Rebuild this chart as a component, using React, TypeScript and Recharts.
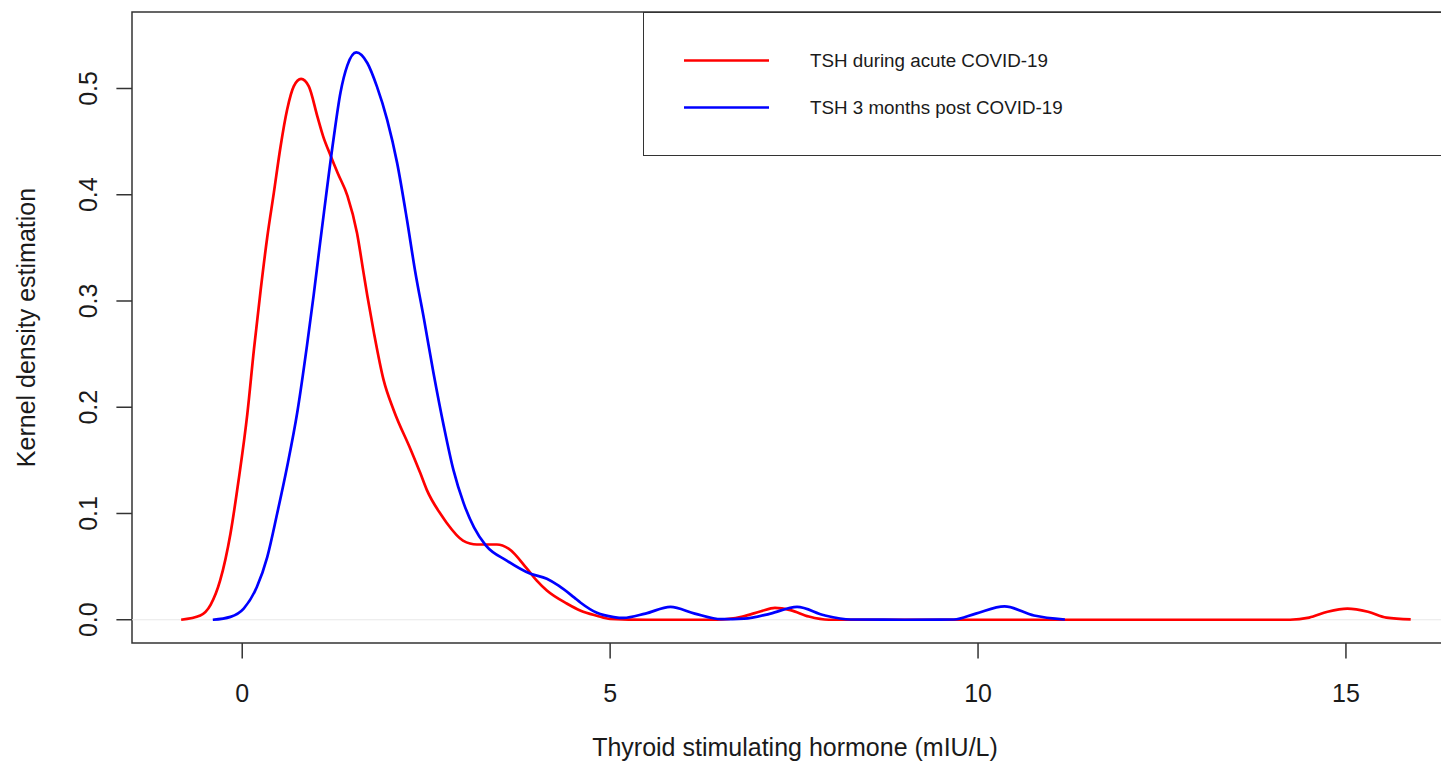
import React from 'react';
import { LineChart, Line, XAxis, YAxis, ReferenceLine, ReferenceArea, Legend, Label } from 'recharts';

// ---- data ----
const acuteX = [-0.83, -0.57, -0.43, -0.3, -0.16, -0.05, 0.07, 0.16, 0.25, 0.34, 0.43, 0.52, 0.61, 0.7, 0.8, 0.905, 1.02, 1.1, 1.2, 1.3, 1.43, 1.56, 1.65, 1.7, 1.79, 1.92, 2.06, 2.29, 2.42, 2.51, 2.71, 2.78, 3.0, 3.19, 3.46, 3.62, 3.87, 4.0, 4.14, 4.41, 4.6, 4.82, 5.0, 5.5, 6.0, 6.45, 6.8, 7.05, 7.24, 7.45, 7.7, 7.97, 9.0, 10.0, 11.0, 12.0, 13.0, 14.24, 14.5, 14.75, 15.02, 15.3, 15.55, 15.88];
const acuteY = [0, 0.004, 0.014, 0.037, 0.081, 0.131, 0.194, 0.255, 0.31, 0.36, 0.402, 0.445, 0.48, 0.502, 0.509, 0.502, 0.474, 0.455, 0.437, 0.42, 0.399, 0.364, 0.326, 0.305, 0.27, 0.226, 0.197, 0.16, 0.138, 0.122, 0.098, 0.091, 0.0745, 0.0708, 0.0708, 0.067, 0.048, 0.037, 0.0275, 0.0153, 0.0085, 0.0038, 0.0008, 0, 0, 0, 0.003, 0.008, 0.0111, 0.009, 0.003, 0, 0, 0, 0, 0, 0, 0, 0.002, 0.0075, 0.0105, 0.0075, 0.002, 0.0003];

const postX = [-0.4, -0.16, 0.02, 0.2, 0.34, 0.475, 0.61, 0.75, 0.88, 0.97, 1.05, 1.11, 1.24, 1.335, 1.43, 1.55, 1.7, 1.83, 1.97, 2.105, 2.24, 2.35, 2.47, 2.6, 2.74, 2.87, 3.01, 3.15, 3.31, 3.6, 3.91, 4.14, 4.3, 4.51, 4.6, 4.82, 5.05, 5.18, 5.48, 5.82, 6.15, 6.51, 6.82, 7.18, 7.54, 7.91, 8.27, 9.0, 9.67, 9.97, 10.36, 10.76, 11.18];
const postY = [0, 0.0027, 0.0105, 0.031, 0.059, 0.1, 0.144, 0.196, 0.258, 0.305, 0.35, 0.383, 0.452, 0.496, 0.522, 0.534, 0.524, 0.502, 0.4705, 0.43, 0.376, 0.328, 0.283, 0.232, 0.182, 0.141, 0.1095, 0.087, 0.07, 0.0555, 0.0435, 0.0385, 0.032, 0.021, 0.016, 0.0065, 0.0025, 0.0017, 0.0058, 0.0121, 0.0058, 0.0005, 0.001, 0.0058, 0.0121, 0.0042, 0.0002, 0, 0.0002, 0.0058, 0.0125, 0.004, 0.0002];

const seriesNames = ['TSH during acute COVID-19', 'TSH 3 months post COVID-19'];
const seriesColors = ['#ff0000', '#0000ff'];
const xTicks = [0, 5, 10, 15];
const yTicks = [0, 0.1, 0.2, 0.3, 0.4, 0.5];
const xTitle = 'Thyroid stimulating hormone (mIU/L)';
const yTitle = 'Kernel density estimation';

const xDomain = [-1.498, 16.55];
const yDomain = [-0.0219, 0.572];

// merged table built from the arrays
const allX = Array.from(new Set([...acuteX, ...postX])).sort((a, b) => a - b);
const tableData = allX.map((x) => {
  const ia = acuteX.indexOf(x);
  const ip = postX.indexOf(x);
  return {
    x,
    acute: ia >= 0 ? acuteY[ia] : null,
    post: ip >= 0 ? postY[ip] : null,
  };
});

const FONT = '"Liberation Sans", Arial, Helvetica, sans-serif';
const TEXT = '#1a1a1a';
const LINE = '#333333';

const XTick = (props: any) => {
  const { x, payload } = props;
  return (
    <text x={x} y={702} textAnchor="middle" fontFamily={FONT} fontSize={25} fill={TEXT}>
      {String(payload.value)}
    </text>
  );
};

const YTick = (props: any) => {
  const { y, payload } = props;
  return (
    <text
      transform={`translate(97, ${y}) rotate(-90)`}
      textAnchor="middle"
      fontFamily={FONT}
      fontSize={25}
      fill={TEXT}
    >
      {Number(payload.value).toFixed(1)}
    </text>
  );
};

const LegendBox = (props: any) => {
  const payload = [...(props.payload || [])].sort(
    (a: any, b: any) => seriesNames.indexOf(a.value) - seriesNames.indexOf(b.value)
  );
  return (
    <div
      style={{
        width: 840,
        height: 144,
        border: `1.5px solid ${LINE}`,
        boxSizing: 'border-box',
        background: '#fff',
      }}
    >
      <svg width={836} height={141} style={{ display: 'block' }}>
        {payload.map((p: any, i: number) => {
          const cy = 47.5 + i * 47;
          return (
            <g key={i}>
              <line x1={40} x2={125} y1={cy} y2={cy} stroke={p.color} strokeWidth={2.7} />
              <text x={166} y={cy} dominantBaseline="central" fontFamily={FONT} fontSize={18.8} fill={TEXT}>
                {p.value}
              </text>
            </g>
          );
        })}
      </svg>
    </div>
  );
};

export default function App() {
  return (
    <div style={{ position: 'absolute', left: 0, top: 0, width: 1441, height: 764, overflow: 'hidden', background: '#fff' }}>
      <LineChart width={1470} height={764} data={tableData} margin={{ top: 12, right: 10, bottom: 0, left: 0 }}>
        <XAxis
          dataKey="x"
          type="number"
          domain={xDomain}
          allowDataOverflow
          ticks={xTicks}
          height={121}
          axisLine={false}
          tickSize={15.6}
          tickLine={{ stroke: LINE, strokeWidth: 1.5 }}
          tick={<XTick />}
          interval={0}
        >
          <Label
            content={() => (
              <text x={795} y={756} textAnchor="middle" fontFamily={FONT} fontSize={25} fill={TEXT}>
                {xTitle}
              </text>
            )}
          />
        </XAxis>
        <YAxis
          type="number"
          domain={yDomain}
          allowDataOverflow
          ticks={yTicks}
          width={132}
          axisLine={false}
          tickSize={15.6}
          tickLine={{ stroke: LINE, strokeWidth: 1.5 }}
          tick={<YTick />}
          interval={0}
        >
          <Label
            content={() => (
              <text
                transform={`translate(35, 327.5) rotate(-90)`}
                textAnchor="middle"
                fontFamily={FONT}
                fontSize={25}
                fill={TEXT}
              >
                {yTitle}
              </text>
            )}
          />
        </YAxis>
        <ReferenceLine y={0} stroke="#e8e8e8" strokeWidth={1.2} />
        <Line
          dataKey="acute"
          name={seriesNames[0]}
          stroke={seriesColors[0]}
          strokeWidth={2.7}
          type="monotone"
          dot={false}
          activeDot={false}
          connectNulls
          isAnimationActive={false}
        />
        <Line
          dataKey="post"
          name={seriesNames[1]}
          stroke={seriesColors[1]}
          strokeWidth={2.7}
          type="monotone"
          dot={false}
          activeDot={false}
          connectNulls
          isAnimationActive={false}
        />
        <ReferenceArea
          x1={xDomain[0]}
          x2={xDomain[1]}
          y1={yDomain[0]}
          y2={yDomain[1]}
          fill="#ffffff"
          fillOpacity={0}
          stroke={LINE}
          strokeWidth={1.5}
        />
        <Legend
          layout="horizontal"
          verticalAlign="middle"
          align="center"
          content={<LegendBox />}
          wrapperStyle={{ position: 'absolute', left: 643, top: 11.5, width: 840, height: 144 }}
        />
      </LineChart>
    </div>
  );
}
